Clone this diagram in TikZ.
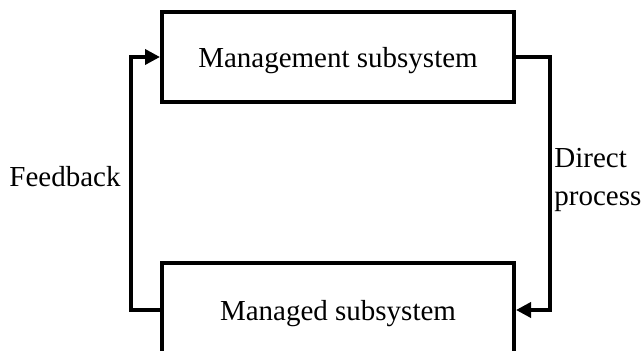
\documentclass[tikz,border=0pt]{standalone}
\usepackage{fontspec}
\setmainfont{Liberation Serif}
\usetikzlibrary{arrows.meta}
\begin{document}
\begin{tikzpicture}[x=0.5pt,y=-0.5pt,
  subsys/.style={draw,line width=2pt,minimum width=176pt,inner sep=0pt,
    text depth=0pt,font=\fontsize{14.5}{18}\selectfont},
  flow/.style={line width=1.8pt,-{Triangle[length=7.5pt,width=7.5pt]}},
  caption/.style={font=\fontsize{14.5}{19}\selectfont,inner sep=0pt}]
  \clip (0,0) rectangle (644,351);
  \useasboundingbox (0,0) rectangle (644,351);
  % the two subsystems
  \node[subsys,minimum height=45pt] (mgmt) at (338,57) {Management subsystem};
  \node[subsys,minimum height=47pt] (mged) at (338,310) {Managed subsystem};
  % control loop
  \draw[flow] (mgmt.east) -- ++(34,0) |- (mged.east);
  \draw[flow] (mged.west) -- ++(-29,0) |- (mgmt.west);
  % labels
  \node[caption] (fb) at (65,177) {Feedback};
  \node[caption,anchor=west,align=left] (dp) at (554,180) {Direct\\process};
\end{tikzpicture}
\end{document}
